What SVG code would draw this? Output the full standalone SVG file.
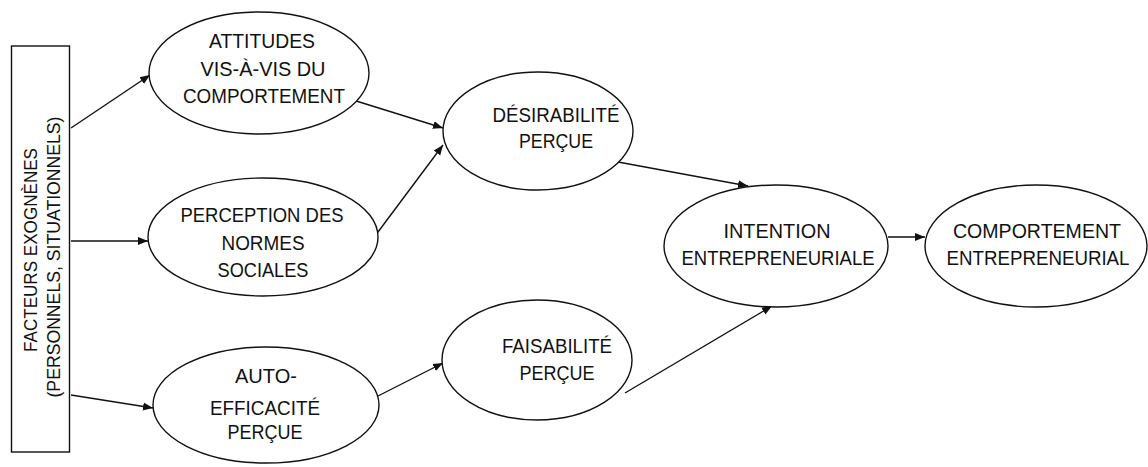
<svg xmlns="http://www.w3.org/2000/svg" width="1148" height="467" viewBox="0 0 1148 467">
<style>
.n{fill:#fff;stroke:#111;stroke-width:1.4}
.t{font-family:"Liberation Sans",Arial,sans-serif;font-size:20px;fill:#111;text-anchor:middle}
.c{stroke:#111;stroke-width:1.4;fill:none;marker-end:url(#ah)}
</style>
<defs>
<marker id="ah" viewBox="0 0 10 10" refX="10" refY="5" markerWidth="10" markerHeight="10" markerUnits="userSpaceOnUse" orient="auto">
<path d="M0,1 L10,5 L0,9 Z" fill="#111"/>
</marker>
</defs>
<rect width="1148" height="467" fill="#fff"/>
<g id="connectors">
<line class="c" x1="71" y1="128" x2="150" y2="75"/>
<line class="c" x1="71" y1="241" x2="148" y2="241"/>
<line class="c" x1="71" y1="395" x2="153" y2="408"/>
<line class="c" x1="353" y1="100" x2="443" y2="128"/>
<line class="c" x1="375" y1="236" x2="443" y2="145"/>
<line class="c" x1="378" y1="396" x2="443" y2="363"/>
<line class="c" x1="618" y1="162" x2="748" y2="186"/>
<line class="c" x1="625" y1="393" x2="772" y2="306"/>
<line class="c" x1="888" y1="237" x2="925" y2="237"/>
</g>
<g id="exogenes">
<rect class="n" x="11.5" y="46" width="58" height="406"/>
<text class="t" style="font-size:19px" transform="translate(37,250) rotate(-90)" textLength="204" lengthAdjust="spacingAndGlyphs">FACTEURS EXOGNÈNES</text>
<text class="t" style="font-size:19px" transform="translate(60,257) rotate(-90)" textLength="281" lengthAdjust="spacingAndGlyphs">(PERSONNELS, SITUATIONNELS)</text>
</g>
<g id="attitudes">
<ellipse class="n" cx="259" cy="73" rx="110" ry="61"/>
<text class="t" x="262" y="48" textLength="106" lengthAdjust="spacingAndGlyphs">ATTITUDES</text>
<text class="t" x="263" y="76" textLength="125" lengthAdjust="spacingAndGlyphs">VIS-À-VIS DU</text>
<text class="t" x="264" y="103" textLength="162" lengthAdjust="spacingAndGlyphs">COMPORTEMENT</text>
</g>
<g id="normes">
<ellipse class="n" cx="263" cy="237" rx="115" ry="59"/>
<text class="t" x="262" y="222" textLength="163" lengthAdjust="spacingAndGlyphs">PERCEPTION DES</text>
<text class="t" x="263" y="250" textLength="83" lengthAdjust="spacingAndGlyphs">NORMES</text>
<text class="t" x="263" y="277" textLength="91" lengthAdjust="spacingAndGlyphs">SOCIALES</text>
</g>
<g id="autoefficacite">
<ellipse class="n" cx="266" cy="405" rx="113" ry="58"/>
<text class="t" x="266" y="383" textLength="62" lengthAdjust="spacingAndGlyphs">AUTO-</text>
<text class="t" x="265" y="415" textLength="110" lengthAdjust="spacingAndGlyphs">EFFICACITÉ</text>
<text class="t" x="265" y="439" textLength="75" lengthAdjust="spacingAndGlyphs">PERÇUE</text>
</g>
<g id="desirabilite">
<ellipse class="n" cx="538" cy="131" rx="95" ry="59"/>
<text class="t" x="556" y="122" textLength="127" lengthAdjust="spacingAndGlyphs">DÉSIRABILITÉ</text>
<text class="t" x="556" y="148" textLength="74" lengthAdjust="spacingAndGlyphs">PERÇUE</text>
</g>
<g id="faisabilite">
<ellipse class="n" cx="537" cy="360" rx="95" ry="60"/>
<text class="t" x="557" y="353" textLength="110" lengthAdjust="spacingAndGlyphs">FAISABILITÉ</text>
<text class="t" x="557" y="380" textLength="75" lengthAdjust="spacingAndGlyphs">PERÇUE</text>
</g>
<g id="intention">
<ellipse class="n" cx="776" cy="246" rx="112" ry="61"/>
<text class="t" x="777" y="238" textLength="107" lengthAdjust="spacingAndGlyphs">INTENTION</text>
<text class="t" x="778" y="265" textLength="193" lengthAdjust="spacingAndGlyphs">ENTREPRENEURIALE</text>
</g>
<g id="comportement">
<ellipse class="n" cx="1036" cy="246" rx="111" ry="61"/>
<text class="t" x="1037" y="238" textLength="168" lengthAdjust="spacingAndGlyphs">COMPORTEMENT</text>
<text class="t" x="1038" y="265" textLength="183" lengthAdjust="spacingAndGlyphs">ENTREPRENEURIAL</text>
</g>
</svg>
